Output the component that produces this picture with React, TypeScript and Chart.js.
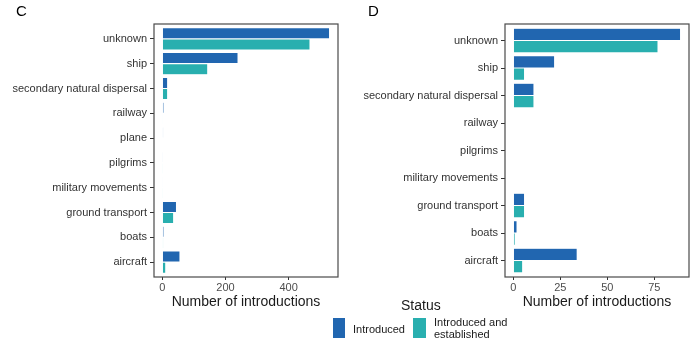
import React, { useEffect, useRef } from "react";
import { Chart, registerables } from "chart.js";

Chart.register(...registerables);

const labelsC = [
  "unknown",
  "ship",
  "secondary natural dispersal",
  "railway",
  "plane",
  "pilgrims",
  "military movements",
  "ground transport",
  "boats",
  "aircraft",
];
const introducedC = [530, 240, 17, 5, 3, 1, 2, 45, 5, 56];
const establishedC = [468, 144, 17, 2, 0, 1, 1, 36, 3, 11];
const ticksC = [0, 200, 400];
const rangeC = [-26.5, 556.5];

const labelsD = [
  "unknown",
  "ship",
  "secondary natural dispersal",
  "railway",
  "pilgrims",
  "military movements",
  "ground transport",
  "boats",
  "aircraft",
];
const introducedD = [89, 22, 11, 0, 0, 0, 6, 2, 34];
const establishedD = [77, 6, 11, 0, 0, 0, 6, 1, 5];
const ticksD = [0, 25, 50, 75];
const rangeD = [-4.45, 93.45];

const seriesNames = ["Introduced", "Introduced and established"];
const BLUE = "#2166b0";
const TEAL = "#29afaf";
const FONT = "'Liberation Sans', Arial, Helvetica, sans-serif";

const borderPlugin = {
  id: "panelBorder",
  afterDraw(chart: any) {
    const { ctx, chartArea } = chart;
    ctx.save();
    ctx.strokeStyle = "#4a4a4a";
    ctx.lineWidth = 1.2;
    ctx.strokeRect(
      chartArea.left,
      chartArea.top,
      chartArea.right - chartArea.left,
      chartArea.bottom - chartArea.top
    );
    ctx.restore();
  },
};

function Panel(props: {
  labels: string[];
  a: number[];
  b: number[];
  ticks: number[];
  range: number[];
  left: number;
  width: number;
  yWidth: number;
  rightPad: number;
}) {
  const ref = useRef<HTMLCanvasElement | null>(null);
  useEffect(() => {
    if (!ref.current) return;
    const { labels, a, b, ticks, range, yWidth, rightPad } = props;
    const n = labels.length;
    const chart = new Chart(ref.current, {
      type: "bar",
      data: {
        datasets: [
          {
            label: seriesNames[0],
            data: a.map((v, i) => ({ x: v, y: i })),
            backgroundColor: BLUE,
            borderColor: "rgba(255,255,255,0.35)",
            borderWidth: 0.6,
            categoryPercentage: 0.9,
            barPercentage: 1,
          },
          {
            label: seriesNames[1],
            data: b.map((v, i) => ({ x: v, y: i })),
            backgroundColor: TEAL,
            borderColor: "rgba(255,255,255,0.35)",
            borderWidth: 0.6,
            categoryPercentage: 0.9,
            barPercentage: 1,
          },
        ],
      },
      options: {
        indexAxis: "y",
        responsive: false,
        animation: false,
        devicePixelRatio: 1,
        layout: { padding: { top: 24, right: rightPad, left: 0, bottom: 0 } },
        plugins: { legend: { display: false }, tooltip: { enabled: false } },
        scales: {
          x: {
            type: "linear",
            min: range[0],
            max: range[1],
            offset: false,
            afterBuildTicks: (s: any) => {
              s.ticks = ticks.map((v) => ({ value: v }));
            },
            afterFit: (s: any) => {
              s.height = 43;
            },
            grid: {
              display: true,
              offset: false,
              drawOnChartArea: false,
              drawTicks: true,
              tickLength: 3,
              color: "#333",
              lineWidth: 1,
            },
            border: { display: false },
            ticks: {
              padding: 1,
              color: "#4d4d4d",
              font: { family: FONT, size: 11 },
              maxRotation: 0,
              autoSkip: false,
            },
            title: {
              display: true,
              text: "Number of introductions",
              color: "#1a1a1a",
              font: { family: FONT, size: 14 },
              padding: { top: 0, bottom: 9.5 },
            },
          },
          y: {
            type: "linear",
            reverse: true,
            offset: false,
            min: -0.6,
            max: n - 1 + 0.6,
            afterBuildTicks: (s: any) => {
              s.ticks = labels.map((_, i) => ({ value: i }));
            },
            afterFit: (s: any) => {
              s.width = yWidth;
            },
            grid: {
              display: true,
              offset: false,
              drawOnChartArea: false,
              drawTicks: true,
              tickLength: 4,
              color: "#333",
              lineWidth: 1,
            },
            border: { display: false },
            ticks: {
              padding: 3,
              color: "#333",
              autoSkip: false,
              font: { family: FONT, size: 11 },
              callback: (v: any) => labels[Math.round(Number(v))] ?? "",
            },
          },
        },
      },
      plugins: [borderPlugin],
    } as any);
    return () => chart.destroy();
  }, []);
  return (
    <canvas
      ref={ref}
      width={props.width}
      height={320}
      style={{ position: "absolute", left: props.left, top: 0, width: props.width, height: 320 }}
    />
  );
}

export default function App() {
  const txt: React.CSSProperties = {
    position: "absolute",
    fontFamily: FONT,
    color: "#1a1a1a",
    lineHeight: 1,
    whiteSpace: "nowrap",
  };
  return (
    <div
      style={{
        position: "fixed",
        left: 0,
        top: 0,
        width: 699,
        height: 342,
        background: "#fff",
        overflow: "hidden",
      }}
    >
      <Panel
        labels={labelsC}
        a={introducedC}
        b={establishedC}
        ticks={ticksC}
        range={rangeC}
        left={0}
        width={345}
        yWidth={154}
        rightPad={7}
      />
      <Panel
        labels={labelsD}
        a={introducedD}
        b={establishedD}
        ticks={ticksD}
        range={rangeD}
        left={350}
        width={349}
        yWidth={155}
        rightPad={10}
      />
      <div style={{ ...txt, left: 16, top: 3, fontSize: 15, color: "#000" }}>C</div>
      <div style={{ ...txt, left: 368, top: 3, fontSize: 15, color: "#000" }}>D</div>
      <div style={{ ...txt, left: 401, top: 298, fontSize: 14 }}>Status</div>
      <div style={{ position: "absolute", left: 333, top: 318, width: 12, height: 20, background: BLUE }} />
      <div style={{ ...txt, left: 353, top: 324, fontSize: 11 }}>{seriesNames[0]}</div>
      <div style={{ position: "absolute", left: 413, top: 318, width: 13, height: 20, background: TEAL }} />
      <div style={{ ...txt, left: 434, top: 316, fontSize: 11, lineHeight: "12px", whiteSpace: "normal", width: 80 }}>
        Introduced and
        <br />
        established
      </div>
    </div>
  );
}
